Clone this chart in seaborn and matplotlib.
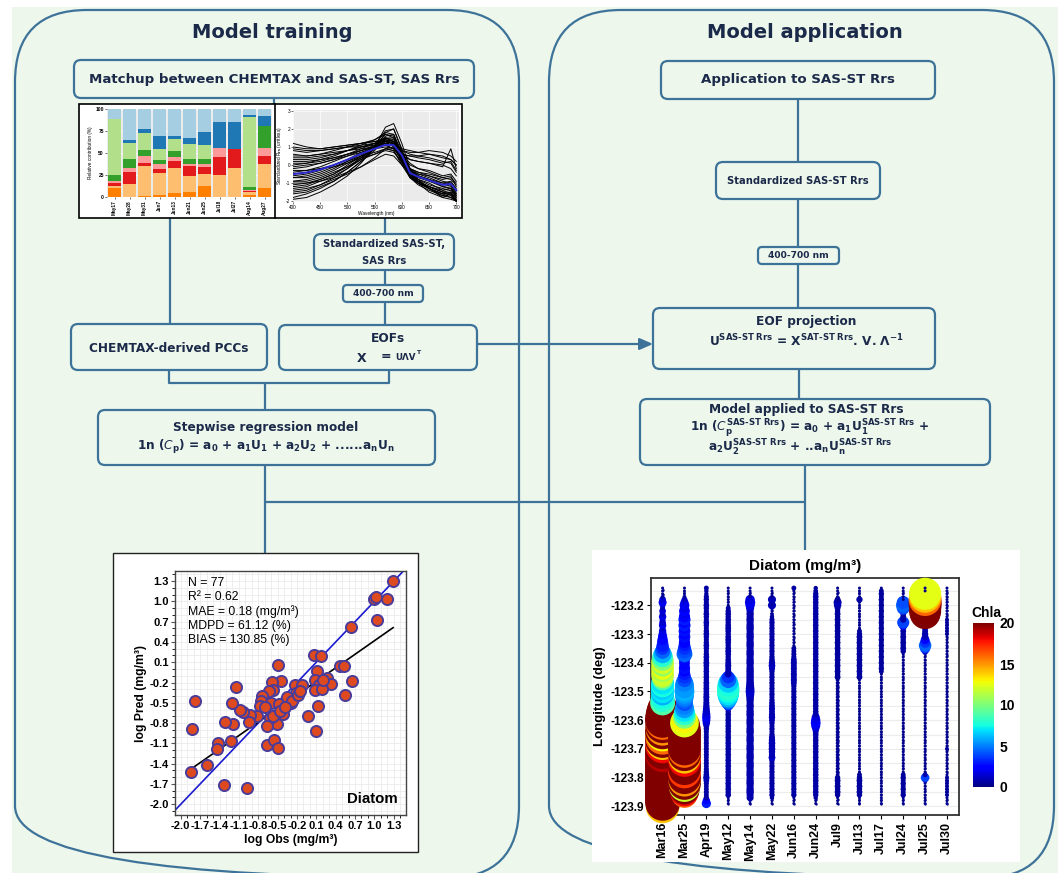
import numpy as np
import pandas as pd
import matplotlib
matplotlib.use("Agg")
import matplotlib.pyplot as plt
from matplotlib.patches import FancyBboxPatch, Rectangle
from matplotlib.ticker import MultipleLocator
from matplotlib.colors import Normalize
from matplotlib.cm import ScalarMappable
import seaborn as sns

NA = np.nan

# ---------------- CHEMTAX pigment-group contributions (%) ----------------
BAR_DATES = ["May17", "May28", "May31", "Jun7", "Jun13", "Jun21", "Jun25",
             "Jul18", "Jul27", "Aug14", "Aug27"]
GRP_DARK_ORANGE = [10, 0.5, 1, 2, 5, 6, 13, 0, 0, 2, 10]
GRP_LIGHT_ORANGE = [2, 14.5, 34, 25, 28, 18, 13, 25, 33, 4, 28]
GRP_RED = [4, 13, 4, 5, 8, 11, 8, 20, 21, 1, 9]
GRP_PINK = [2, 5, 8, 5, 4, 3, 3, 11, 0, 1, 9]
GRP_DARK_GREEN = [6.5, 10, 6, 5, 7, 5, 6, 0, 0, 3, 25]
GRP_LIGHT_GREEN = [64, 18, 20, 13, 14, 17, 16, 0, 0, 80, 0]
GRP_DARK_BLUE = [0, 4, 4, 14, 3, 7, 15, 29, 31, 2, 11]
GRP_LIGHT_BLUE = [11.5, 35, 23, 31, 31, 33, 26, 15, 15, 7, 8]

# ---------------- standardized Rrs spectra ----------------
WAVELENGTH = [400, 425, 450, 475, 500, 525, 550, 570, 585, 600, 615, 630, 650, 675, 690, 700]
SPECTRA = [
    [1.2, 1.0, 0.9, 1.0, 1.1, 1.2, 1.3, 1.4, 1.2, 0.9, 0.8, 0.7, 0.6, 0.4, 0.3, 0.0],
    [0.8, 0.7, 0.8, 0.9, 1.0, 1.1, 1.2, 1.3, 1.0, 0.6, 0.5, 0.4, 0.3, 0.1, 0.2, -0.3],
    [0.3, 0.3, 0.4, 0.6, 0.8, 1.0, 1.2, 1.4, 1.1, 0.2, -0.3, -0.5, -0.6, -0.9, -1.0, -1.4],
    [-0.2, -0.1, 0.1, 0.3, 0.6, 0.9, 1.2, 1.5, 1.3, 0.4, -0.4, -0.7, -0.9, -1.2, -1.1, -1.6],
    [-0.5, -0.4, -0.2, 0.0, 0.3, 0.6, 0.9, 1.2, 1.1, 0.3, -0.3, -0.6, -0.8, -1.1, -1.0, -1.4],
    [-0.9, -0.8, -0.6, -0.3, 0.1, 0.5, 0.9, 1.3, 1.2, 0.3, -0.5, -0.8, -1.1, -1.3, -1.2, -1.7],
    [-1.3, -1.2, -0.9, -0.6, -0.2, 0.3, 0.9, 1.6, 1.7, 0.6, -0.5, -0.9, -1.2, -1.5, -1.4, -1.8],
    [-1.6, -1.5, -1.2, -0.9, -0.4, 0.2, 0.9, 1.8, 2.0, 0.9, -0.4, -0.9, -1.3, -1.6, -1.5, -1.9],
    [-1.9, -1.8, -1.5, -1.1, -0.6, 0.1, 1.0, 2.1, 2.3, 1.2, -0.2, -0.8, -1.3, -1.7, -1.6, -2.0],
    [-1.1, -1.0, -0.9, -0.7, -0.4, -0.1, 0.3, 0.6, 0.5, 0.0, -0.4, -0.6, -0.8, -1.0, -0.9, -1.3],
    [0.0, 0.1, 0.2, 0.4, 0.6, 0.8, 1.0, 1.1, 0.9, 0.5, 0.3, 0.2, 0.1, -0.1, 0.9, -0.2],
    [0.5, 0.5, 0.6, 0.7, 0.8, 0.9, 1.0, 1.1, 0.9, 0.3, -0.2, -0.4, -0.6, -0.8, -0.7, -1.0],
    [-0.7, -0.6, -0.4, -0.1, 0.2, 0.5, 0.7, 0.9, 0.8, 0.1, -0.6, -0.9, -1.2, -1.5, -1.6, -2.0],
    [-1.4, -1.3, -1.1, -0.8, -0.5, -0.1, 0.4, 0.9, 1.0, 0.2, -0.7, -1.1, -1.4, -1.7, -1.8, -2.0],
    [0.9, 0.8, 0.8, 0.9, 1.0, 1.0, 1.1, 1.2, 1.1, 0.8, 0.7, 0.7, 0.8, 0.7, 0.5, 0.2],
    [-0.3, -0.3, -0.2, -0.1, 0.1, 0.4, 0.6, 0.8, 0.7, 0.2, -0.2, -0.4, -0.5, -0.7, -0.8, -1.1],
    [1.0, 0.9, 0.9, 1.0, 1.1, 1.2, 1.3, 1.5, 1.3, 0.8, 0.6, 0.5, 0.4, 0.2, 0.1, -0.4],
    [0.6, 0.5, 0.6, 0.8, 1.0, 1.2, 1.4, 1.7, 1.5, 0.6, 0.1, -0.2, -0.4, -0.7, -0.6, -1.2],
    [0.1, 0.1, 0.3, 0.5, 0.8, 1.1, 1.4, 1.8, 1.7, 0.7, -0.2, -0.6, -0.8, -1.2, -1.3, -1.7],
    [-0.4, -0.3, -0.1, 0.2, 0.5, 0.8, 1.1, 1.4, 1.3, 0.5, -0.2, -0.5, -0.7, -1.0, -1.1, -1.5],
    [-0.7, -0.7, -0.5, -0.2, 0.2, 0.6, 1.0, 1.5, 1.4, 0.5, -0.4, -0.8, -1.0, -1.4, -1.3, -1.8],
    [-1.0, -1.0, -0.8, -0.5, -0.1, 0.4, 0.9, 1.4, 1.3, 0.4, -0.6, -1.0, -1.3, -1.6, -1.5, -1.9],
    [-1.2, -1.1, -0.8, -0.5, 0.0, 0.5, 1.1, 1.9, 2.0, 0.8, -0.4, -0.9, -1.2, -1.5, -1.7, -2.0],
    [-1.5, -1.4, -1.1, -0.7, -0.2, 0.4, 1.0, 1.7, 1.6, 0.5, -0.6, -1.0, -1.3, -1.8, -1.6, -2.0],
    [-1.8, -1.6, -1.3, -0.9, -0.4, 0.2, 0.8, 1.5, 1.5, 0.6, -0.5, -1.0, -1.5, -1.8, -1.9, -2.0],
    [-0.1, 0.0, 0.1, 0.3, 0.5, 0.7, 0.9, 1.0, 0.9, 0.6, 0.5, 0.5, 0.6, 0.5, 0.3, 0.0],
    [0.4, 0.4, 0.5, 0.6, 0.8, 1.0, 1.2, 1.3, 1.2, 0.7, 0.3, 0.2, 0.1, 0.0, -0.2, -0.6],
    [-0.6, -0.5, -0.3, 0.0, 0.3, 0.7, 1.0, 1.3, 1.2, 0.2, -0.7, -1.0, -1.2, -1.4, -1.3, -1.6],
    [-0.9, -0.9, -0.7, -0.4, -0.1, 0.3, 0.6, 0.9, 0.8, 0.0, -0.7, -1.0, -1.3, -1.6, -1.8, -2.0],
    [0.2, 0.2, 0.3, 0.4, 0.6, 0.8, 1.0, 1.2, 1.1, 0.4, 0.0, -0.2, -0.3, -0.6, -0.5, -0.9],
]
MEAN_SPECTRUM = [-0.5, -0.42, -0.25, 0.0, 0.3, 0.62, 0.9, 1.12, 1.1, 0.55, -0.45, -0.65, -0.85, -1.1, -1.05, -1.4]

# ---------------- diatom matchups (log10 mg/m3) ----------------
OBS = [1.29, 0.99, 1.03, 1.19, 1.04, 0.63, 0.07, 0.17, -0.50, 0.11, 0.47, 0.53, 0.65, 0.55,
       0.27, 0.33, 0.08, 0.14, 0.08, 0.19, 0.12, 0.10, -0.03, -0.23, -0.12, -0.21, -0.26,
       -0.30, -0.34, -0.41, -0.45, -0.59, -0.57, -0.64, -0.74, -0.76, -0.60, -0.77, -0.48,
       -0.41, -0.51, -0.61, -0.57, -0.66, -0.82, -0.92, -0.95, -1.03, -1.08, -1.21, -1.14,
       -1.19, -1.31, -1.22, -1.43, -1.44, -1.60, -1.84, -1.78, -1.82, -1.33, -0.98, -0.67,
       -0.55, -0.50, -0.46, -0.36, -0.28, -0.18, -0.15, 0.20, -0.70, -0.38]
PRED = [1.30, 1.03, 1.07, 1.03, 0.72, 0.62, 0.21, 0.19, 0.06, -0.03, 0.05, 0.04, -0.18, -0.39,
        -0.14, -0.22, -0.16, -0.24, -0.31, -0.29, -0.54, -0.91, -0.69, -0.24, -0.24, -0.36, -0.44,
        -0.51, -0.46, -0.51, -0.18, -0.19, -0.31, -0.32, -0.40, -0.47, -0.51, -0.55, -0.52,
        -0.66, -0.81, -0.73, -0.70, -0.84, -0.69, -0.68, -0.79, -0.64, -0.60, -0.50, -0.26,
        -0.82, -0.78, -1.06, -1.09, -1.18, -1.42, -1.52, -0.47, -0.89, -1.72, -1.76, -1.12,
        -1.05, -1.17, -0.62, -0.42, -0.48, -0.38, -0.32, -0.17, -0.56, -0.56]
FIT_SLOPE = 0.668
FIT_INTERCEPT = -0.25
AXIS_TICKS = [-2.0, -1.7, -1.4, -1.1, -0.8, -0.5, -0.2, 0.1, 0.4, 0.7, 1.0, 1.3]
STATS_LINES = ["N = 77", "R\u00b2 = 0.62", "MAE = 0.18 (mg/m\u00b3)",
               "MDPD = 61.12 (%)", "BIAS = 130.85 (%)"]

# ---------------- diatom along the transect ----------------
# samples every 0.01 deg from -123.14 (north) to -123.90 (south)
TRANSECT_DATES = ["Mar16", "Mar25", "Apr19", "May12", "May14", "May22", "Jun16",
                  "Jun24", "Jul9", "Jul13", "Jul17", "Jul24", "Jul25", "Jul30"]
LONGITUDE = [
    -123.14, -123.15, -123.16, -123.17, -123.18, -123.19, -123.20, -123.21, -123.22, -123.23,
    -123.24, -123.25, -123.26, -123.27, -123.28, -123.29, -123.30, -123.31, -123.32, -123.33,
    -123.34, -123.35, -123.36, -123.37, -123.38, -123.39, -123.40, -123.41, -123.42, -123.43,
    -123.44, -123.45, -123.46, -123.47, -123.48, -123.49, -123.50, -123.51, -123.52, -123.53,
    -123.54, -123.55, -123.56, -123.57, -123.58, -123.59, -123.60, -123.61, -123.62, -123.63,
    -123.64, -123.65, -123.66, -123.67, -123.68, -123.69, -123.70, -123.71, -123.72, -123.73,
    -123.74, -123.75, -123.76, -123.77, -123.78, -123.79, -123.80, -123.81, -123.82, -123.83,
    -123.84, -123.85, -123.86, -123.87, -123.88, -123.89, -123.90]
LON_TICKS = [-123.2, -123.3, -123.4, -123.5, -123.6, -123.7, -123.8, -123.9]

MAR16_DIATOM = [
    0.05, 0.05, 0.05, 0.1, 0.4, 0.6, 0.3, 0.2, 0.4, 0.3,
    0.5, 0.3, 0.4, 0.5, 0.3, 0.5, 0.6, 0.8, 1.0, 1.2,
    1.4, 1.6, 2.2, 3.2, 4.0, 4.5, 5.0, 4.5, 5.0, 4.5,
    5.0, 4.5, 4.2, 5.0, 5.2, 4.8, 5.2, 4.8, 5.2, 5.5,
    6.0, 7.0, 9.0, 10.0, 11.0, 11.5, 12.0, 11.0, 11.5, 11.0,
    12.0, 11.0, 11.5, 12.0, 11.0, 11.5, 12.0, 11.5, 12.0, 11.5,
    12.0, 11.5, 12.0, 11.5, 12.0, 11.5, 12.0, 11.5, 12.0, 11.5,
    12.0, 11.5, 12.0, 11.5, 12.0, 11.5, 11.0]
MAR16_CHLA = [
    0.3, 0.3, 0.3, 0.5, 1.5, 2.0, 1.2, 1.0, 1.5, 1.2,
    1.8, 1.2, 1.5, 1.8, 1.2, 1.8, 2.0, 2.5, 2.5, 3.0,
    3.0, 3.5, 4.5, 6.0, 8.0, 10.0, 12.0, 10.5, 12.5, 11.0,
    12.0, 11.5, 9.0, 7.0, 7.5, 6.5, 7.0, 6.0, 7.5, 8.0,
    9.0, 20, 22, 20, 22, 21, 22, 16, 20, 15,
    21, 13, 16, 21, 14, 18, 21, 22, 19, 22,
    21, 22, 20, 22, 21, 22, 21, 22, 20, 22,
    21, 22, 21, 22, 21, 22, 14]
MAR25_DIATOM = [
    0.05, 0.05, 0.05, 0.1, 0.3, 0.6, 0.9, 0.7, 1.1, 0.9,
    1.2, 1.4, 1.1, 1.4, 1.0, 1.3, 1.0, 1.3, 1.0, 1.2,
    1.3, 1.6, 2.0, 2.4, 1.5, 1.0, 1.1, 1.0, 1.2, 1.1,
    1.3, 1.6, 2.0, 3.0, 3.5, 3.6, 3.8, 3.5, 3.2, 2.8,
    2.5, 3.0, 3.5, 4.0, 4.5, 5.0, 6.5, 8.0, 9.5, 10.0,
    10.5, 10.0, 10.5, 10.0, 10.5, 10.0, 10.5, 10.0, 10.5, 10.0,
    10.5, 10.0, 10.5, 10.0, 10.5, 10.0, 10.5, 10.0, 10.5, 9.5,
    9.0, 8.0, 6.5, 0.3, 0.1, 0.05, NA]
MAR25_CHLA = [
    0.3, 0.3, 0.3, 0.5, 1.2, 1.8, 2.0, 1.8, 2.5, 2.0,
    2.5, 3.0, 2.5, 3.0, 2.2, 2.8, 2.2, 2.8, 2.2, 2.5,
    3.0, 3.5, 4.0, 4.5, 3.0, 2.2, 2.5, 2.2, 2.8, 2.5,
    3.0, 3.5, 4.0, 5.0, 5.5, 5.5, 6.0, 5.5, 5.0, 4.5,
    4.0, 5.0, 5.5, 7.0, 8.0, 10.0, 13.0, 12.5, 20, 21,
    22, 21, 22, 21, 22, 21, 22, 16, 22, 14,
    18, 22, 21, 22, 17, 22, 21, 15, 22, 12,
    20, 18, 16, 0.7, 0.5, 0.3, NA]
APR19_DIATOM = [
    0.2, 0.15, 0.15, 0.22, 0.25, 0.22, 0.28, 0.25, 0.22, 0.28,
    0.25, 0.22, 0.28, 0.25, 0.22, 0.25, 0.28, 0.25, 0.22, 0.25,
    0.28, 0.25, 0.22, 0.25, 0.28, 0.25, 0.3, 0.28, 0.25, 0.28,
    0.25, 0.28, 0.25, 0.3, 0.28, 0.3, 0.28, 0.3, 0.33, 0.3,
    0.33, 0.36, 0.42, 0.5, 0.6, 0.66, 0.6, 0.5, 0.3, 0.25,
    0.22, 0.2, 0.22, 0.2, 0.22, 0.2, 0.22, 0.2, 0.22, 0.2,
    0.2, 0.22, 0.2, 0.22, 0.25, 0.28, 0.36, 0.28, 0.22, 0.2,
    0.2, 0.22, 0.2, 0.25, 0.5, 0.8, NA]
APR19_CHLA = [
    0.7, 0.6, 0.6, 0.7, 0.75, 0.7, 0.8, 0.75, 0.7, 0.8,
    0.75, 0.7, 0.8, 0.75, 0.7, 0.75, 0.8, 0.75, 0.7, 0.75,
    0.8, 0.75, 0.7, 0.75, 0.8, 0.75, 0.85, 0.8, 0.75, 0.8,
    0.75, 0.8, 0.75, 0.85, 0.8, 0.85, 0.8, 0.85, 0.9, 0.85,
    0.9, 1.0, 1.2, 1.4, 1.7, 2.0, 1.7, 1.4, 0.85, 0.75,
    0.7, 0.65, 0.7, 0.65, 0.7, 0.65, 0.7, 0.65, 0.7, 0.65,
    0.65, 0.7, 0.65, 0.7, 0.75, 0.8, 1.0, 0.8, 0.7, 0.65,
    0.65, 0.7, 0.65, 0.75, 2.5, 3.0, NA]
MAY12_DIATOM = [
    0.05, 0.05, 0.05, 0.05, 0.05, 0.05, 0.05, 0.2, 0.25, 0.28,
    0.25, 0.28, 0.25, 0.28, 0.3, 0.28, 0.25, 0.28, 0.3, 0.28,
    0.25, 0.28, 0.3, 0.28, 0.25, 0.28, 0.3, 0.33, 0.3, 0.33,
    0.4, 1.5, 2.5, 3.8, 4.5, 4.8, 4.8, 4.5, 3.8, 2.8,
    1.8, 0.9, 0.28, 0.25, 0.28, 0.25, 0.28, 0.25, 0.28, 0.25,
    0.28, 0.25, 0.28, 0.25, 0.28, 0.25, 0.28, 0.25, 0.28, 0.25,
    0.28, 0.25, 0.28, 0.25, 0.28, 0.25, 0.28, 0.25, 0.28, 0.25,
    0.28, 0.25, 0.28, 0.05, 0.05, 0.05, NA]
MAY12_CHLA = [
    0.3, 0.3, 0.3, 0.3, 0.3, 0.3, 0.3, 0.65, 0.7, 0.75,
    0.7, 0.75, 0.7, 0.75, 0.8, 0.75, 0.7, 0.75, 0.8, 0.75,
    0.7, 0.75, 0.8, 0.75, 0.7, 0.75, 0.8, 0.85, 0.8, 0.85,
    1.0, 3.5, 4.5, 6.5, 7.5, 8.0, 7.5, 7.0, 6.0, 5.0,
    4.0, 2.5, 0.75, 0.7, 0.75, 0.7, 0.75, 0.7, 0.75, 0.7,
    0.75, 0.7, 0.75, 0.7, 0.75, 0.7, 0.75, 0.7, 0.75, 0.7,
    0.75, 0.7, 0.75, 0.7, 0.75, 0.7, 0.75, 0.7, 0.75, 0.7,
    0.75, 0.7, 0.75, 0.3, 0.3, 0.3, NA]
MAY14_DIATOM = [
    0.05, 0.05, 0.05, 0.1, 0.8, 1.0, 0.8, 0.6, 0.45, 0.5,
    0.45, 0.52, 0.45, 0.5, 0.52, 0.45, 0.5, 0.52, 0.45, 0.5,
    0.52, 0.45, 0.5, 0.52, 0.45, 0.5, 0.52, 0.45, 0.5, 0.52,
    0.5, 0.52, 0.5, 0.55, 0.6, 0.7, 0.75, 0.65, 0.55, 0.5,
    0.45, 0.52, 0.45, 0.5, 0.52, 0.45, 0.5, 0.52, 0.45, 0.5,
    0.52, 0.45, 0.5, 0.52, 0.45, 0.5, 0.52, 0.45, 0.5, 0.52,
    0.45, 0.5, 0.52, 0.45, 0.5, 0.52, 0.45, 0.5, 0.52, 0.45,
    0.5, 0.52, 0.45, 0.45, 0.05, 0.05, NA]
MAY14_CHLA = [
    0.3, 0.3, 0.3, 0.5, 1.7, 2.0, 1.7, 1.4, 0.8, 0.85,
    0.8, 0.85, 0.8, 0.85, 0.85, 0.8, 0.85, 0.85, 0.8, 0.85,
    0.85, 0.8, 0.85, 0.85, 0.8, 0.85, 0.85, 0.8, 0.85, 0.85,
    0.85, 0.85, 0.85, 0.9, 1.0, 1.2, 1.4, 1.2, 0.9, 0.85,
    0.8, 0.85, 0.8, 0.85, 0.85, 0.8, 0.85, 0.85, 0.8, 0.85,
    0.85, 0.8, 0.85, 0.85, 0.8, 0.85, 0.85, 0.8, 0.85, 0.85,
    0.8, 0.85, 0.85, 0.8, 0.85, 0.85, 0.8, 0.85, 0.85, 0.8,
    0.85, 0.85, 0.8, 0.85, 0.3, 0.3, NA]
MAY22_DIATOM = [
    0.05, 0.05, 0.05, 0.1, 0.6, 0.3, 0.6, 0.1, 0.05, 0.1,
    0.15, 0.22, 0.25, 0.22, 0.25, 0.22, 0.25, 0.22, 0.25, 0.22,
    0.25, 0.22, 0.25, 0.22, 0.25, 0.28, 0.36, 0.4, 0.33, 0.25,
    0.22, 0.25, 0.22, 0.25, 0.22, 0.25, 0.22, 0.25, 0.22, 0.25,
    0.28, 0.3, 0.33, 0.3, 0.33, 0.36, 0.3, 0.25, 0.22, 0.25,
    0.22, 0.25, 0.33, 0.36, 0.4, 0.36, 0.4, 0.36, 0.33, 0.42,
    0.25, 0.22, 0.25, 0.22, 0.25, 0.22, 0.25, 0.22, 0.25, 0.22,
    0.25, 0.22, 0.25, 0.15, 0.05, 0.05, NA]
MAY22_CHLA = [
    0.3, 0.3, 0.3, 0.5, 1.0, 0.6, 1.0, 0.5, 0.3, 0.5,
    0.55, 0.65, 0.7, 0.65, 0.7, 0.65, 0.7, 0.65, 0.7, 0.65,
    0.7, 0.65, 0.7, 0.65, 0.7, 0.75, 1.0, 1.1, 0.9, 0.7,
    0.65, 0.7, 0.65, 0.7, 0.65, 0.7, 0.65, 0.7, 0.65, 0.7,
    0.75, 0.85, 0.9, 0.85, 0.9, 0.95, 0.85, 0.7, 0.65, 0.7,
    0.65, 0.7, 0.9, 0.95, 1.0, 0.95, 1.0, 0.95, 0.9, 1.2,
    0.7, 0.65, 0.7, 0.65, 0.7, 0.65, 0.7, 0.65, 0.7, 0.65,
    0.7, 0.65, 0.7, 0.55, 0.3, 0.3, NA]
JUN16_DIATOM = [
    0.2, 0.05, 0.05, 0.05, 0.05, 0.05, 0.05, 0.05, 0.05, 0.05,
    0.05, 0.05, 0.05, 0.05, 0.05, 0.05, 0.05, 0.05, 0.05, 0.05,
    0.05, 0.2, 0.2, 0.22, 0.22, 0.3, 0.33, 0.3, 0.33, 0.3,
    0.33, 0.3, 0.33, 0.3, 0.25, 0.22, 0.25, 0.22, 0.25, 0.22,
    0.25, 0.22, 0.25, 0.22, 0.25, 0.22, 0.25, 0.22, 0.25, 0.22,
    0.25, 0.22, 0.25, 0.22, 0.25, 0.22, 0.25, 0.22, 0.25, 0.22,
    0.25, 0.22, 0.25, 0.22, 0.25, 0.22, 0.25, 0.22, 0.25, 0.22,
    0.25, 0.22, 0.25, 0.05, 0.05, 0.05, NA]
JUN16_CHLA = [
    0.7, 0.3, 0.3, 0.3, 0.3, 0.3, 0.3, 0.3, 0.3, 0.3,
    0.3, 0.3, 0.3, 0.3, 0.3, 0.3, 0.3, 0.3, 0.3, 0.3,
    0.3, 0.6, 0.6, 0.65, 0.65, 0.8, 0.85, 0.8, 0.85, 0.8,
    0.85, 0.8, 0.85, 0.8, 0.7, 0.65, 0.7, 0.65, 0.7, 0.65,
    0.7, 0.65, 0.7, 0.65, 0.7, 0.65, 0.7, 0.65, 0.7, 0.65,
    0.7, 0.65, 0.7, 0.65, 0.7, 0.65, 0.7, 0.65, 0.7, 0.65,
    0.7, 0.65, 0.7, 0.65, 0.7, 0.65, 0.7, 0.65, 0.7, 0.65,
    0.7, 0.65, 0.7, 0.3, 0.3, 0.3, NA]
JUN24_DIATOM = [
    0.15, 0.18, 0.25, 0.28, 0.25, 0.28, 0.25, 0.28, 0.25, 0.28,
    0.25, 0.28, 0.25, 0.28, 0.25, 0.28, 0.25, 0.28, 0.25, 0.28,
    0.25, 0.28, 0.25, 0.28, 0.25, 0.28, 0.25, 0.28, 0.25, 0.28,
    0.25, 0.28, 0.25, 0.28, 0.25, 0.28, 0.25, 0.28, 0.25, 0.28,
    0.25, 0.28, 0.25, 0.28, 0.3, 0.6, 0.8, 0.9, 0.75, 0.45,
    0.3, 0.28, 0.25, 0.28, 0.25, 0.28, 0.25, 0.28, 0.25, 0.28,
    0.25, 0.28, 0.25, 0.28, 0.25, 0.28, 0.25, 0.28, 0.25, 0.28,
    0.25, 0.28, 0.25, 0.15, 0.05, 0.05, NA]
JUN24_CHLA = [
    0.55, 0.6, 0.7, 0.75, 0.7, 0.75, 0.7, 0.75, 0.7, 0.75,
    0.7, 0.75, 0.7, 0.75, 0.7, 0.75, 0.7, 0.75, 0.7, 0.75,
    0.7, 0.75, 0.7, 0.75, 0.7, 0.75, 0.7, 0.75, 0.7, 0.75,
    0.7, 0.75, 0.7, 0.75, 0.7, 0.75, 0.7, 0.75, 0.7, 0.75,
    0.7, 0.75, 0.7, 0.75, 0.85, 1.6, 2.0, 2.3, 1.8, 1.2,
    0.85, 0.75, 0.7, 0.75, 0.7, 0.75, 0.7, 0.75, 0.7, 0.75,
    0.7, 0.75, 0.7, 0.75, 0.7, 0.75, 0.7, 0.75, 0.7, 0.75,
    0.7, 0.75, 0.7, 0.55, 0.3, 0.3, NA]
JUL9_DIATOM = [
    0.05, 0.05, 0.05, 0.05, 0.3, 0.6, 0.5, 0.3, 0.25, 0.3,
    0.25, 0.3, 0.25, 0.3, 0.25, 0.3, 0.25, 0.3, 0.25, 0.3,
    0.25, 0.3, 0.25, 0.3, 0.25, 0.3, 0.25, 0.3, 0.25, 0.3,
    0.25, 0.3, 0.1, 0.1, 0.1, 0.1, 0.1, 0.1, 0.1, 0.1,
    0.1, 0.1, 0.1, 0.1, 0.1, 0.1, 0.1, 0.1, 0.1, 0.1,
    0.1, 0.1, 0.1, 0.1, 0.1, 0.1, 0.1, 0.1, 0.1, 0.1,
    0.1, 0.1, 0.1, 0.1, 0.1, 0.1, 0.25, 0.3, 0.25, 0.3,
    0.25, 0.3, 0.25, 0.05, 0.05, 0.05, NA]
JUL9_CHLA = [
    0.3, 0.3, 0.3, 0.3, 0.6, 1.0, 0.85, 0.6, 0.55, 0.6,
    0.55, 0.6, 0.55, 0.6, 0.55, 0.6, 0.55, 0.6, 0.55, 0.6,
    0.55, 0.6, 0.55, 0.6, 0.55, 0.6, 0.55, 0.6, 0.55, 0.6,
    0.55, 0.6, 0.45, 0.45, 0.45, 0.45, 0.45, 0.45, 0.45, 0.45,
    0.45, 0.45, 0.45, 0.45, 0.45, 0.45, 0.45, 0.45, 0.45, 0.45,
    0.45, 0.45, 0.45, 0.45, 0.45, 0.45, 0.45, 0.45, 0.45, 0.45,
    0.45, 0.45, 0.45, 0.45, 0.45, 0.45, 0.55, 0.6, 0.55, 0.6,
    0.55, 0.6, 0.55, 0.3, 0.3, 0.3, NA]
JUL13_DIATOM = [
    0.05, 0.05, 0.05, 0.05, 0.35, 0.05, 0.05, 0.05, 0.05, 0.05,
    0.05, 0.05, 0.05, 0.05, 0.05, 0.2, 0.25, 0.3, 0.25, 0.3,
    0.25, 0.3, 0.25, 0.3, 0.25, 0.3, 0.25, 0.3, 0.25, 0.3,
    0.25, 0.3, 0.05, 0.05, 0.05, 0.05, 0.05, 0.05, 0.05, 0.05,
    0.05, 0.05, 0.05, 0.05, 0.05, 0.05, 0.05, 0.05, 0.05, 0.05,
    0.05, 0.05, 0.05, 0.05, 0.05, 0.05, 0.05, 0.05, 0.05, 0.05,
    0.05, 0.05, 0.05, 0.05, 0.05, 0.2, 0.25, 0.3, 0.25, 0.3,
    0.25, 0.3, 0.25, 0.05, 0.05, 0.05, NA]
JUL13_CHLA = [
    0.3, 0.3, 0.3, 0.3, 0.7, 0.3, 0.3, 0.3, 0.3, 0.3,
    0.3, 0.3, 0.3, 0.3, 0.3, 0.5, 0.55, 0.6, 0.55, 0.6,
    0.55, 0.6, 0.55, 0.6, 0.55, 0.6, 0.55, 0.6, 0.55, 0.6,
    0.55, 0.6, 0.3, 0.3, 0.3, 0.3, 0.3, 0.3, 0.3, 0.3,
    0.3, 0.3, 0.3, 0.3, 0.3, 0.3, 0.3, 0.3, 0.3, 0.3,
    0.3, 0.3, 0.3, 0.3, 0.3, 0.3, 0.3, 0.3, 0.3, 0.3,
    0.3, 0.3, 0.3, 0.3, 0.3, 0.5, 0.55, 0.6, 0.55, 0.6,
    0.55, 0.6, 0.55, 0.3, 0.3, 0.3, NA]
JUL17_DIATOM = [
    0.05, 0.2, 0.25, 0.2, 0.25, 0.2, 0.25, 0.2, 0.25, 0.2,
    0.25, 0.2, 0.25, 0.2, 0.25, 0.2, 0.25, 0.2, 0.25, 0.2,
    0.25, 0.2, 0.25, 0.2, 0.25, 0.2, 0.25, 0.2, 0.25, 0.2,
    0.05, 0.05, 0.05, 0.05, 0.05, 0.05, 0.05, 0.05, 0.05, 0.05,
    0.05, 0.05, 0.05, 0.05, 0.05, 0.05, 0.05, 0.05, 0.05, 0.05,
    0.05, 0.05, 0.05, 0.05, 0.05, 0.05, 0.05, 0.05, 0.05, 0.05,
    0.05, 0.05, 0.05, 0.05, 0.05, 0.05, 0.05, 0.05, 0.05, 0.05,
    0.05, 0.05, 0.05, 0.05, 0.05, 0.05, NA]
JUL17_CHLA = [
    0.3, 0.5, 0.55, 0.5, 0.55, 0.5, 0.55, 0.5, 0.55, 0.5,
    0.55, 0.5, 0.55, 0.5, 0.55, 0.5, 0.55, 0.5, 0.55, 0.5,
    0.55, 0.5, 0.55, 0.5, 0.55, 0.5, 0.55, 0.5, 0.55, 0.5,
    0.3, 0.3, 0.3, 0.3, 0.3, 0.3, 0.3, 0.3, 0.3, 0.3,
    0.3, 0.3, 0.3, 0.3, 0.3, 0.3, 0.3, 0.3, 0.3, 0.3,
    0.3, 0.3, 0.3, 0.3, 0.3, 0.3, 0.3, 0.3, 0.3, 0.3,
    0.3, 0.3, 0.3, 0.3, 0.3, 0.3, 0.3, 0.3, 0.3, 0.3,
    0.3, 0.3, 0.3, 0.3, 0.3, 0.3, NA]
JUL24_DIATOM = [
    0.05, 0.05, 0.05, 0.05, 0.05, 1.6, 2.0, 1.6, 0.4, 0.3,
    0.3, 0.35, 1.4, 0.7, 0.25, 0.3, 0.25, 0.3, 0.25, 0.3,
    0.25, 0.3, 0.25, 0.05, 0.05, 0.05, 0.05, 0.05, 0.05, 0.05,
    0.05, 0.05, 0.05, 0.05, 0.05, 0.05, 0.05, 0.05, 0.05, 0.05,
    0.05, 0.05, 0.05, 0.05, 0.05, 0.05, 0.05, 0.05, 0.05, 0.05,
    0.05, 0.05, 0.05, 0.05, 0.05, 0.05, 0.05, 0.05, 0.05, 0.05,
    0.05, 0.05, 0.05, 0.05, 0.05, 0.2, 0.25, 0.2, 0.25, 0.2,
    0.25, 0.2, 0.25, 0.05, 0.05, 0.05, NA]
JUL24_CHLA = [
    0.3, 0.3, 0.3, 0.3, 0.3, 4.0, 4.5, 4.0, 0.8, 0.7,
    0.7, 0.75, 3.8, 2.5, 0.6, 0.65, 0.6, 0.65, 0.6, 0.65,
    0.6, 0.65, 0.6, 0.3, 0.3, 0.3, 0.3, 0.3, 0.3, 0.3,
    0.3, 0.3, 0.3, 0.3, 0.3, 0.3, 0.3, 0.3, 0.3, 0.3,
    0.3, 0.3, 0.3, 0.3, 0.3, 0.3, 0.3, 0.3, 0.3, 0.3,
    0.3, 0.3, 0.3, 0.3, 0.3, 0.3, 0.3, 0.3, 0.3, 0.3,
    0.3, 0.3, 0.3, 0.3, 0.3, 0.5, 0.55, 0.5, 0.55, 0.5,
    0.55, 0.5, 0.55, 0.3, 0.3, 0.3, NA]
JUL25_DIATOM = [
    0.05, 0.05, 10.0, 10.0, 10.5, 10.5, 10.5, 10.0, 10.0, 9.0,
    0.4, 0.3, 0.05, 0.05, 0.3, 0.3, 0.35, 0.4, 0.7, 1.0,
    1.5, 1.0, 0.4, 0.05, 0.05, 0.05, 0.05, 0.05, 0.05, 0.05,
    0.05, 0.05, 0.05, 0.05, 0.05, 0.05, 0.05, 0.05, 0.05, 0.05,
    0.05, 0.05, 0.05, 0.05, 0.05, 0.05, 0.05, 0.05, 0.05, 0.05,
    0.05, 0.05, 0.05, 0.05, 0.05, 0.05, 0.05, 0.05, 0.05, 0.05,
    0.05, 0.05, 0.05, 0.05, 0.05, 0.2, 0.7, 0.2, 0.05, 0.05,
    0.05, 0.05, 0.05, 0.05, 0.05, 0.05, NA]
JUL25_CHLA = [
    0.3, 0.3, 12.5, 14.0, 16.0, 20, 22, 21, 22, 21,
    0.85, 0.7, 0.3, 0.3, 0.85, 0.85, 0.9, 1.0, 2.5, 3.5,
    4.5, 3.5, 0.85, 0.3, 0.3, 0.3, 0.3, 0.3, 0.3, 0.3,
    0.3, 0.3, 0.3, 0.3, 0.3, 0.3, 0.3, 0.3, 0.3, 0.3,
    0.3, 0.3, 0.3, 0.3, 0.3, 0.3, 0.3, 0.3, 0.3, 0.3,
    0.3, 0.3, 0.3, 0.3, 0.3, 0.3, 0.3, 0.3, 0.3, 0.3,
    0.3, 0.3, 0.3, 0.3, 0.3, 0.85, 3.8, 0.85, 0.3, 0.3,
    0.3, 0.3, 0.3, 0.3, 0.3, 0.3, NA]
JUL30_DIATOM = [
    0.05, 0.05, 0.05, 0.05, 0.05, 0.05, 0.05, 0.05, 0.05, 0.05,
    0.05, 0.12, 0.12, 0.12, 0.12, 0.12, 0.12, 0.05, 0.05, 0.05,
    0.05, 0.05, 0.05, 0.05, 0.05, 0.05, 0.05, 0.05, 0.05, 0.05,
    0.05, 0.05, 0.05, 0.05, 0.05, 0.05, 0.05, 0.05, 0.05, 0.05,
    0.05, 0.05, 0.05, 0.05, 0.05, 0.05, 0.05, 0.05, 0.05, 0.05,
    0.05, 0.05, 0.05, 0.05, 0.05, 0.05, 0.12, 0.05, 0.05, 0.05,
    0.05, 0.05, 0.05, 0.05, 0.05, 0.05, 0.12, 0.12, 0.12, 0.12,
    0.12, 0.12, 0.12, 0.05, 0.05, 0.05, NA]
JUL30_CHLA = [
    0.3, 0.3, 0.3, 0.3, 0.3, 0.3, 0.3, 0.3, 0.3, 0.3,
    0.3, 0.5, 0.5, 0.5, 0.5, 0.5, 0.5, 0.3, 0.3, 0.3,
    0.3, 0.3, 0.3, 0.3, 0.3, 0.3, 0.3, 0.3, 0.3, 0.3,
    0.3, 0.3, 0.3, 0.3, 0.3, 0.3, 0.3, 0.3, 0.3, 0.3,
    0.3, 0.3, 0.3, 0.3, 0.3, 0.3, 0.3, 0.3, 0.3, 0.3,
    0.3, 0.3, 0.3, 0.3, 0.3, 0.3, 0.5, 0.3, 0.3, 0.3,
    0.3, 0.3, 0.3, 0.3, 0.3, 0.3, 0.5, 0.5, 0.5, 0.5,
    0.5, 0.5, 0.5, 0.3, 0.3, 0.3, NA]

TRANSECT_DIATOM = [MAR16_DIATOM, MAR25_DIATOM, APR19_DIATOM, MAY12_DIATOM, MAY14_DIATOM,
                   MAY22_DIATOM, JUN16_DIATOM, JUN24_DIATOM, JUL9_DIATOM, JUL13_DIATOM,
                   JUL17_DIATOM, JUL24_DIATOM, JUL25_DIATOM, JUL30_DIATOM]
TRANSECT_CHLA = [MAR16_CHLA, MAR25_CHLA, APR19_CHLA, MAY12_CHLA, MAY14_CHLA,
                 MAY22_CHLA, JUN16_CHLA, JUN24_CHLA, JUL9_CHLA, JUL13_CHLA,
                 JUL17_CHLA, JUL24_CHLA, JUL25_CHLA, JUL30_CHLA]

# ---------------- styling ----------------
EDGE = "#3e7399"
INK = "#1c2a4a"
PANEL_BG = "#edf7ec"
CHART_FONT = "Liberation Sans"
FLOW_FONT = "DejaVu Sans"
JET = plt.get_cmap("jet")

plt.rcParams["mathtext.fontset"] = "dejavusans"
plt.rcParams["mathtext.default"] = "bf"

W, H = 1058, 873
fig = plt.figure(figsize=(W / 100, H / 100), dpi=100)
fig.patch.set_facecolor("white")


def px_axes(x0, y0, x1, y1, z=2):
    ax = fig.add_axes([x0 / W, 1 - y1 / H, (x1 - x0) / W, (y1 - y0) / H])
    ax.set_zorder(z)
    return ax


bg = px_axes(0, 0, W, H, z=0)
bg.set_xlim(0, W)
bg.set_ylim(H, 0)
bg.axis("off")
bg.add_patch(Rectangle((12, 7), W - 12, H - 7, fc=PANEL_BG, ec="none", zorder=0))
for x0, x1 in [(15, 519), (549, 1054)]:
    bg.add_patch(FancyBboxPatch((x0, 10), x1 - x0, 868,
                                boxstyle="round,pad=0,rounding_size=72",
                                fc="none", ec=EDGE, lw=1.6, zorder=1))


def node(x0, y0, x1, y1, r=7):
    bg.add_patch(FancyBboxPatch((x0, y0), x1 - x0, y1 - y0,
                                boxstyle=f"round,pad=0,rounding_size={r}",
                                fc=PANEL_BG, ec=EDGE, lw=1.6, zorder=3))


def wire(xs, ys):
    bg.plot(xs, ys, color=EDGE, lw=1.6, zorder=2, solid_capstyle="butt")


def label(x, y, s, size):
    bg.text(x, y, s, ha="center", va="center", fontsize=size, fontweight="bold",
            color=INK, family=FLOW_FONT, zorder=5)


SUP = "SAS\u2010ST\\ Rrs"

# ---- training side ----
label(272, 32, "Model training", 14)
node(74, 60, 474, 98)
label(274, 79, "Matchup between CHEMTAX and SAS-ST, SAS Rrs", 9.6)
wire([274, 274], [98, 104])
wire([170, 170], [218, 324])
wire([385, 385], [218, 234])
node(314, 234, 454, 270)
label(384, 244, "Standardized SAS-ST,", 7.2)
label(384, 261, "SAS Rrs", 7.2)
wire([385, 385], [270, 285])
node(343, 285, 423, 302, r=4)
label(383, 294, "400-700 nm", 6.6)
wire([385, 385], [302, 325])
node(71, 324, 267, 370)
label(169, 348, "CHEMTAX-derived PCCs", 8.7)
node(279, 325, 477, 370)
label(388, 339, "EOFs", 8.7)
label(362, 358, "X", 9)
label(386, 357, "=", 9)
label(405, 358, "U\u039bV", 6.3)
label(418, 353, "T", 4.5)
wire([169, 169, 389, 389], [370, 383, 383, 370])
wire([265, 265], [383, 410])
node(98, 410, 435, 465)
label(266, 428, "Stepwise regression model", 8.7)
label(266, 447, r"1n ($\mathit{C}_{p}$) = a$_{0}$ + a$_{1}$U$_{1}$ + a$_{2}$U$_{2}$ + ......a$_{n}$U$_{n}$", 8.7)
wire([265, 265], [465, 553])
wire([265, 805], [502, 502])
bg.annotate("", xy=(653, 344), xytext=(477, 344), zorder=2,
            arrowprops=dict(arrowstyle="-|>,head_length=0.8,head_width=0.35",
                            color=EDGE, lw=1.6, shrinkA=0, shrinkB=0))

# ---- application side ----
label(805, 32, "Model application", 14)
node(661, 61, 935, 99)
label(798, 80, "Application to SAS-ST Rrs", 9.6)
wire([798, 798], [99, 162])
node(716, 162, 880, 199)
label(798, 181, "Standardized SAS-ST Rrs", 7.2)
wire([798, 798], [199, 247])
node(758, 247, 839, 264, r=4)
label(798, 256, "400-700 nm", 6.6)
wire([798, 798], [264, 308])
node(653, 308, 935, 369)
label(806, 321, "EOF projection", 8.7)
label(806, 341, "U$^{" + SUP + "}$ = X$^{SAT\u2010ST\\ Rrs}$. V. \u039b$^{-1}$", 8.7)
wire([799, 799], [369, 399])
node(640, 399, 990, 465)
label(806, 409, "Model applied to SAS-ST Rrs", 8.7)
label(810, 428, r"1n ($\mathit{C}_{p}^{" + SUP + r"}$) = a$_{0}$ + a$_{1}$U$_{1}^{" + SUP + "}$ +", 8.7)
label(800, 448, r"a$_{2}$U$_{2}^{" + SUP + r"}$ + ..a$_{n}$U$_{n}^{" + SUP + "}$", 8.7)
wire([805, 805], [465, 550])

# ---------------- pigment-group stacked bars ----------------
bg.add_patch(Rectangle((79, 104), 383, 114, fc="white", ec="black", lw=1.2, zorder=3))
bg.plot([275, 275], [104, 218], color="black", lw=1.2, zorder=4)
axr = px_axes(107, 109, 272, 197)
axr.set_facecolor("#ebebeb")
groups = [GRP_DARK_ORANGE, GRP_LIGHT_ORANGE, GRP_RED, GRP_PINK,
          GRP_DARK_GREEN, GRP_LIGHT_GREEN, GRP_DARK_BLUE, GRP_LIGHT_BLUE]
group_colors = ["#ff7f00", "#fdbf6f", "#e31a1c", "#fb9a99",
                "#33a02c", "#b2df8a", "#1f78b4", "#a6cee3"]
cumulative = np.cumsum(np.array(groups, dtype=float), axis=0)
for k in range(len(groups) - 1, -1, -1):
    sns.barplot(x=BAR_DATES, y=cumulative[k], color=group_colors[k], saturation=1,
                width=0.82, ax=axr, linewidth=0, zorder=2)
axr.set_ylim(0, 100)
axr.set_xlim(-0.5, len(BAR_DATES) - 0.5)
axr.grid(axis="y", color="white", lw=0.5)
axr.set_axisbelow(True)
axr.set_yticks([0, 25, 50, 75, 100])
axr.set_yticklabels(["0", "25", "50", "75", "100"], fontsize=3.6, fontweight="bold", family=CHART_FONT)
axr.set_xticks(range(len(BAR_DATES)))
axr.set_xticklabels(BAR_DATES, rotation=90, fontsize=3.4, fontweight="bold", family=CHART_FONT)
axr.tick_params(length=1.2, width=0.4, pad=1)
axr.set_ylabel("Relative contribution (%)", fontsize=3.4, family=CHART_FONT, labelpad=2)
axr.set_xlabel("")
for s in axr.spines.values():
    s.set_visible(False)

# ---------------- standardized spectra ----------------
axs = px_axes(293, 110, 459, 202)
axs.set_facecolor("#ebebeb")
for spec in SPECTRA:
    axs.plot(WAVELENGTH, spec, color="black", lw=0.7, zorder=2)
sns.lineplot(x=WAVELENGTH, y=MEAN_SPECTRUM, color="#2a2ad0", lw=1.4, ax=axs, zorder=3)
axs.set_xlim(400, 705)
axs.set_ylim(-2.05, 3.05)
axs.grid(color="white", lw=0.5)
axs.set_axisbelow(True)
axs.set_xticks([400, 450, 500, 550, 600, 650, 700])
axs.set_xticklabels(["400", "450", "500", "550", "600", "650", "700"], fontsize=3.4, family=CHART_FONT)
axs.set_yticks([-2, -1, 0, 1, 2, 3])
axs.set_yticklabels(["-2", "-1", "0", "1", "2", "3"], fontsize=3.4, family=CHART_FONT)
axs.tick_params(length=1.2, width=0.4, pad=1)
axs.set_xlabel("Wavelength (nm)", fontsize=3.4, family=CHART_FONT, labelpad=1)
axs.set_ylabel(r"Standardized R$_{rs}$ (unitless)", fontsize=3.4, family=CHART_FONT, labelpad=1)
for s in axs.spines.values():
    s.set_visible(False)

# ---------------- matchup scatter ----------------
bg.add_patch(Rectangle((113, 553), 305, 299, fc="white", ec="#222222", lw=1.0, zorder=3))
ax = px_axes(175, 571, 406, 815)
ax.set_facecolor("white")
ax.set_xlim(-2.09, 1.49)
ax.set_ylim(-2.16, 1.45)
ax.xaxis.set_minor_locator(MultipleLocator(0.1))
ax.yaxis.set_minor_locator(MultipleLocator(0.1))
ax.grid(which="both", color="#ebebeb", lw=0.6)
ax.set_axisbelow(True)
ax.plot([-2.3, 1.7], [-2.3, 1.7], color="#1a1ad0", lw=1.2, zorder=2)
fit_x = np.array([min(OBS), max(OBS)])
ax.plot(fit_x, FIT_INTERCEPT + FIT_SLOPE * fit_x, color="black", lw=1.2, zorder=2)
sns.scatterplot(x=OBS, y=PRED, ax=ax, s=64, color="#dd4a1f", edgecolor="#4b3c9a",
                linewidth=1.4, zorder=3)
tick_text = [f"{t:.1f}" for t in AXIS_TICKS]
ax.set_xticks(AXIS_TICKS)
ax.set_xticklabels(tick_text, fontsize=8, fontweight="bold", family=CHART_FONT)
ax.set_yticks(AXIS_TICKS)
ax.set_yticklabels(tick_text, fontsize=8, fontweight="bold", family=CHART_FONT)
ax.tick_params(length=3, width=0.8, pad=1.5, color="#555555")
ax.set_xlabel("log Obs (mg/m\u00b3)", fontsize=8.7, fontweight="bold", family=CHART_FONT, labelpad=2)
ax.set_ylabel("log Pred (mg/m\u00b3)", fontsize=8.7, fontweight="bold", family=CHART_FONT, labelpad=2)
for s in ax.spines.values():
    s.set_color("#444444")
    s.set_linewidth(1.0)
for k, line in enumerate(STATS_LINES):
    ax.text(0.055, 0.975 - k * 0.058, line, transform=ax.transAxes, ha="left", va="top",
            fontsize=8.8, family=CHART_FONT)
ax.text(0.965, 0.035, "Diatom", transform=ax.transAxes, ha="right", va="bottom",
        fontsize=10.8, fontweight="bold", family=CHART_FONT)

# ---------------- diatom along the transect ----------------
bg.add_patch(Rectangle((592, 550), 428, 312, fc="white", ec="none", zorder=3))
rows = []
for pos, (date, dia, chl) in enumerate(zip(TRANSECT_DATES, TRANSECT_DIATOM, TRANSECT_CHLA)):
    assert len(dia) == len(LONGITUDE) and len(chl) == len(LONGITUDE), date
    for lon, d, c in reversed(list(zip(LONGITUDE, dia, chl))):
        if not np.isnan(d):
            rows.append({"date": date, "pos": pos, "lon": lon, "diatom": d, "chla": c})
transect = pd.DataFrame(rows)

axb = px_axes(651, 578, 959, 815)
axb.set_facecolor("white")
for pos, grp in transect.groupby("pos"):
    axb.plot(grp["pos"], grp["lon"], color="#12128a", lw=1.8, ls=(0, (0.1, 1.7)),
             dash_capstyle="round", zorder=2)
sns.scatterplot(data=transect, x="pos", y="lon", hue="chla", size="diatom",
                palette=JET, hue_norm=(0, 20), sizes=(2, 640), size_norm=(0, 12),
                linewidth=0, legend=False, ax=axb, zorder=3, clip_on=False)
axb.set_xlim(-0.53, len(TRANSECT_DATES) - 0.45)
axb.set_ylim(-123.93, -123.105)
axb.yaxis.set_minor_locator(MultipleLocator(0.05))
axb.grid(axis="y", which="both", color="#ececec", lw=0.8)
axb.set_axisbelow(True)
axb.set_xticks(range(len(TRANSECT_DATES)))
axb.set_xticklabels(TRANSECT_DATES, rotation=90, fontsize=9, fontweight="bold", family=CHART_FONT)
axb.set_yticks(LON_TICKS)
axb.set_yticklabels([f"{t:.1f}" for t in LON_TICKS], fontsize=8.6, fontweight="bold", family=CHART_FONT)
axb.tick_params(length=3, width=0.8, pad=2)
axb.tick_params(axis="y", which="minor", length=0)
axb.set_xlabel("")
axb.set_ylabel("Longitude (deg)", fontsize=9.5, fontweight="bold", family=CHART_FONT, labelpad=3)
for s in axb.spines.values():
    s.set_color("#333333")
    s.set_linewidth(1.3)
bg.text(805, 566, "Diatom (mg/m\u00b3)", ha="center", va="center", fontsize=11,
        fontweight="bold", family=CHART_FONT, zorder=5)

cax = px_axes(973, 623, 994, 787)
cbar = fig.colorbar(ScalarMappable(norm=Normalize(0, 20), cmap=JET), cax=cax,
                    ticks=[0, 5, 10, 15, 20])
cbar.outline.set_visible(False)
cax.tick_params(length=0, pad=4)
cax.set_yticklabels(["0", "5", "10", "15", "20"], fontsize=10, fontweight="bold", family=CHART_FONT)
bg.text(971, 613, "Chla", ha="left", va="center", fontsize=10, fontweight="bold",
        family=CHART_FONT, zorder=5)

fig.savefig("out.png", dpi=100, facecolor=fig.get_facecolor())
